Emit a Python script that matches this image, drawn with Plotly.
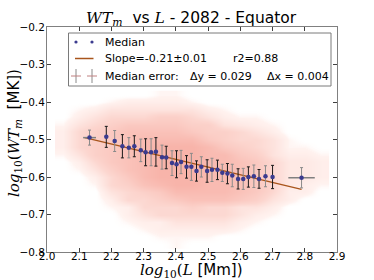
import plotly.graph_objects as go

# ---- data ----
med_x = [2.132, 2.184, 2.210, 2.234, 2.254, 2.271, 2.291, 2.306, 2.323, 2.338,
         2.357, 2.370, 2.388, 2.402, 2.416, 2.433, 2.448, 2.464, 2.479, 2.497,
         2.512, 2.529, 2.544, 2.560, 2.575, 2.593, 2.609, 2.625, 2.642, 2.658,
         2.678, 2.700, 2.790]
med_y = [-0.495, -0.493, -0.504, -0.518, -0.522, -0.518, -0.529, -0.534, -0.534, -0.533,
         -0.547, -0.548, -0.563, -0.566, -0.560, -0.573, -0.573, -0.584, -0.573, -0.584,
         -0.581, -0.581, -0.589, -0.591, -0.596, -0.605, -0.605, -0.600, -0.598, -0.605,
         -0.598, -0.600, -0.602]
err_y = [0.020, 0.028, 0.028, 0.031, 0.027, 0.028, 0.030, 0.036, 0.036, 0.038,
         0.032, 0.030, 0.033, 0.036, 0.031, 0.030, 0.036, 0.027, 0.027, 0.030,
         0.031, 0.026, 0.023, 0.027, 0.030, 0.027, 0.028, 0.027, 0.030, 0.025,
         0.028, 0.031, 0.027]
err_x = [0.020, 0.004, 0.004, 0.004, 0.004, 0.004, 0.004, 0.004, 0.004, 0.004,
         0.004, 0.004, 0.004, 0.004, 0.004, 0.004, 0.004, 0.004, 0.004, 0.004,
         0.004, 0.004, 0.004, 0.004, 0.004, 0.004, 0.004, 0.004, 0.004, 0.004,
         0.004, 0.004, 0.041]

fit_x = [2.117, 2.790]
fit_y = [-0.495, -0.633]

# density of the scatter cloud (estimated, arbitrary units)
dens_x = [2.05, 2.10, 2.15, 2.20, 2.25, 2.30, 2.35, 2.40, 2.45, 2.50, 2.55, 2.60, 2.65, 2.70, 2.75, 2.80, 2.85]
dens_y = [-0.38, -0.40, -0.42, -0.44, -0.46, -0.48, -0.50, -0.52, -0.54, -0.56, -0.58,
          -0.60, -0.62, -0.64, -0.66, -0.68, -0.70, -0.72, -0.74, -0.76, -0.78]
dens_z = [
    [0, 0, 0, 0, 0, 0, 0.5, 0.5, 0, 0, 0, 0, 0, 0, 0, 0, 0],
    [0, 0, 0, 0.5, 1, 1, 1, 1, 0.5, 0, 0, 0, 0, 0, 0, 0, 0],
    [0, 0.5, 1, 2, 2, 2, 2, 2, 2, 1, 0.5, 0, 0, 0, 0, 0, 0],
    [0, 1, 2, 3, 3, 3, 4, 4, 3, 2, 1, 0.5, 0.5, 0, 0, 0, 0],
    [0.5, 2, 3, 4, 5, 5, 5, 5, 4, 4, 2, 1.5, 1, 0.5, 0, 0, 0],
    [1, 3, 4, 5, 6, 6, 6, 6, 5, 4, 4, 3, 2, 1, 0, 0, 0],
    [1, 3, 4, 5, 6, 7, 7, 7, 7, 5, 4, 3, 3, 2, 0.5, 0, 0],
    [1, 3, 4, 5, 6, 7, 8, 8, 8, 7, 5, 4, 3, 2, 0.5, 0.5, 0],
    [0.5, 2, 4, 5, 6, 7, 8, 8, 8, 7, 7, 5, 4, 2, 1, 1, 0.5],
    [0, 1, 3, 5, 6, 7, 8, 8, 8, 7, 7, 6, 5, 3, 1.5, 1.5, 1],
    [0, 0.5, 2, 4, 6, 7, 8, 8, 8, 7, 7, 6, 5, 3, 1.5, 1.5, 1],
    [0, 0, 1, 3, 5, 7, 8, 8, 8, 7, 7, 6, 5, 3, 1.5, 1.5, 1],
    [0, 0, 0.5, 3, 4, 6, 7, 8, 8, 7, 7, 6, 5, 3, 1.5, 1, 0.5],
    [0, 0, 0, 2, 3, 4, 5, 7, 7, 7, 7, 6, 5, 3, 1, 1, 0],
    [0, 0, 0, 1, 3, 3, 4, 5, 6, 6, 6, 5, 4, 2, 1, 0, 0],
    [0, 0, 0, 0.5, 1, 3, 3, 3, 4, 3, 3, 2, 2, 1, 0, 0, 0],
    [0, 0, 0, 0, 1, 2, 3, 3, 3, 3, 3, 2, 1, 0.5, 0, 0, 0],
    [0, 0, 0, 0, 0.5, 1, 1, 2, 2, 2, 2, 1, 0.5, 0, 0, 0, 0],
    [0, 0, 0, 0, 0, 0.5, 1, 1, 1, 1, 1, 0.5, 0, 0, 0, 0, 0],
    [0, 0, 0, 0, 0, 0, 0.5, 0.5, 0.5, 0.5, 0, 0, 0, 0, 0, 0, 0],
    [0, 0, 0, 0, 0, 0, 0, 0.5, 0, 0, 0, 0, 0, 0, 0, 0, 0],
]

title_text = ('<span style="font-family:\'DejaVu Serif\'"><i>WT</i><sub><i>m</i></sub></span>'
              '  vs <span style="font-family:\'DejaVu Serif\'"><i>L</i></span> - 2082 - Equator')
xlabel_text = ('<span style="font-family:\'DejaVu Serif\'"><i>log</i><sub>10</sub>(<i>L</i></span>'
               ' [Mm])')
ylabel_text = ('<span style="font-family:\'DejaVu Serif\'"><i>log</i><sub>10</sub>(<i>WT</i>'
               '<sub><i>m</i></sub></span>  [MK])')
leg_median = 'Median'
leg_slope = 'Slope=-0.21\u00b10.01'
leg_r2 = 'r2=0.88'
leg_err = 'Median error:'
leg_dy = '\u0394y = 0.029'
leg_dx = '\u0394x = 0.004'

FONT = 'DejaVu Sans'
W, H = 374, 280
ML, MR, MT, MB = 47, 37, 27, 28
PW, PH = W - ML - MR, H - MT - MB


def px(x):
    return (x - ML) / PW


def py(y):
    return (H - MB - y) / PH


fig = go.Figure()

fig.add_trace(go.Heatmap(
    x=dens_x, y=dens_y, z=dens_z, zsmooth='best', showscale=False, hoverinfo='skip',
    zmin=0, zmax=8,
    colorscale=[[0, 'rgba(255,255,255,0)'], [0.07, 'rgba(255,243,240,1)'],
                [0.4, 'rgb(252,214,207)'], [1, 'rgb(248,180,170)']],
))

fig.add_trace(go.Scatter(
    x=fit_x, y=fit_y, mode='lines', line=dict(color='#a8551c', width=1.5),
    hoverinfo='skip', showlegend=False))

idx_gray = [i for i in range(len(med_x)) if i % 2 == 0]
idx_black = [i for i in range(len(med_x)) if i % 2 == 1]
for idx, col in ((idx_gray, '#8a8a8a'), (idx_black, '#1a1a1a')):
    fig.add_trace(go.Scatter(
        x=[med_x[i] for i in idx], y=[med_y[i] for i in idx], mode='markers',
        marker=dict(size=1, opacity=0),
        error_y=dict(type='data', array=[err_y[i] for i in idx], color=col, thickness=1, width=1.5),
        error_x=dict(type='data', array=[err_x[i] for i in idx], color='#808080', thickness=1.5, width=0),
        hoverinfo='skip', showlegend=False))

fig.add_trace(go.Scatter(
    x=med_x, y=med_y, mode='markers',
    marker=dict(size=4.5, color='#3b3b8f', line=dict(width=0)),
    showlegend=False))

shapes = []
# legend box
shapes.append(dict(type='rect', xref='paper', yref='paper', x0=px(68.5), x1=px(331), y0=py(86), y1=py(33),
                   fillcolor='white', line=dict(color='#7a7a7a', width=1), layer='above'))
for cx in (76, 92):
    shapes.append(dict(type='circle', xref='paper', yref='paper', x0=px(cx - 1.6), x1=px(cx + 1.6),
                       y0=py(42 + 1.6), y1=py(42 - 1.6), fillcolor='#3b3b8f', line=dict(width=0), layer='above'))
    shapes.append(dict(type='line', xref='paper', yref='paper', x0=px(cx), x1=px(cx), y0=py(83), y1=py(69),
                       line=dict(color='#8a8a8a', width=1), layer='above'))
    shapes.append(dict(type='line', xref='paper', yref='paper', x0=px(cx - 5), x1=px(cx + 5), y0=py(76), y1=py(76),
                       line=dict(color='#c08080', width=1), layer='above'))
shapes.append(dict(type='line', xref='paper', yref='paper', x0=px(75), x1=px(93.5), y0=py(58.5), y1=py(58.5),
                   line=dict(color='#a8551c', width=1.5), layer='above'))

ann = []


def add_text(text, x, y, size=11, xanchor='left', angle=0):
    ann.append(dict(text=text, x=px(x), y=py(y), xref='paper', yref='paper', showarrow=False,
                    xanchor=xanchor, yanchor='middle', textangle=angle,
                    font=dict(family=FONT, size=size, color='black')))


add_text(leg_median, 103, 42)
add_text(leg_slope, 103, 58.5)
add_text(leg_r2, 231, 58.5)
add_text(leg_err, 103, 76)
add_text(leg_dy, 188, 76)
add_text(leg_dx, 265, 76)
add_text(title_text, 191.5, 19.5, size=15.5, xanchor='center')
add_text(xlabel_text, 191.5, 270, size=15, xanchor='center')
add_text(ylabel_text, 14, 133, size=15, xanchor='center', angle=-90)

axis_common = dict(showgrid=False, zeroline=False, showline=True, linecolor='#808080', linewidth=1,
                   mirror='ticks', ticks='inside', ticklen=4, tickcolor='#404040', tickformat='.1f',
                   tickfont=dict(family=FONT, size=10.5, color='black'), automargin=False)

fig.update_layout(
    width=W, height=H, margin=dict(l=ML, r=MR, t=MT, b=MB),
    paper_bgcolor='white', plot_bgcolor='white', showlegend=False,
    xaxis=dict(range=[2.0, 2.9], dtick=0.1, tick0=2.0, ticklabelstandoff=-6, **axis_common),
    yaxis=dict(range=[-0.8, -0.2], dtick=0.1, tick0=-0.8, ticklabelstandoff=-1, **axis_common),
    shapes=shapes, annotations=ann,
)

fig.write_html('out.html', config={'displayModeBar': False},
               post_script="document.body.style.margin='0';document.body.style.padding='0';"
                           "document.body.style.overflow='hidden';")
